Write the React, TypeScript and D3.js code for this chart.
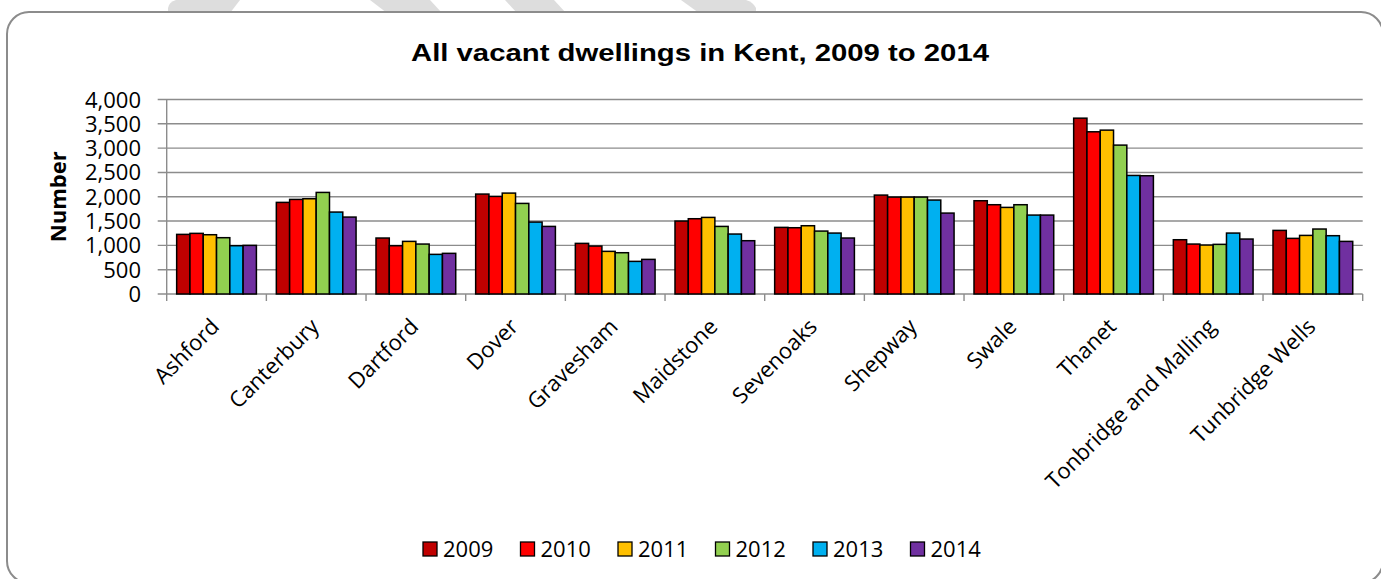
import React from "react";
import * as d3 from "d3";

const categories = [
  "Ashford", "Canterbury", "Dartford", "Dover", "Gravesham", "Maidstone",
  "Sevenoaks", "Shepway", "Swale", "Thanet", "Tonbridge and Malling", "Tunbridge Wells",
];
const years = ["2009", "2010", "2011", "2012", "2013", "2014"];
const colors = ["#C00000", "#FF0000", "#FFC000", "#92D050", "#00B0F0", "#7030A0"];

const v2009 = [1226, 1884, 1151, 2055, 1041, 1500, 1370, 2034, 1918, 3616, 1116, 1308];
const v2010 = [1247, 1945, 993, 2007, 986, 1548, 1363, 1993, 1836, 3336, 1027, 1144];
const v2011 = [1219, 1959, 1082, 2075, 877, 1575, 1404, 1993, 1781, 3370, 1007, 1205];
const v2012 = [1158, 2089, 1027, 1863, 849, 1390, 1294, 1993, 1836, 3062, 1021, 1336];
const v2013 = [993, 1685, 815, 1479, 671, 1233, 1253, 1932, 1623, 2438, 1253, 1199];
const v2014 = [1000, 1582, 836, 1390, 712, 1096, 1151, 1664, 1623, 2432, 1130, 1082];
const series = [v2009, v2010, v2011, v2012, v2013, v2014];

const yTicks = [0, 500, 1000, 1500, 2000, 2500, 3000, 3500, 4000];
const title = "All vacant dwellings in Kent, 2009 to 2014";
const yTitle = "Number";

const W = 1381;
const H = 579;
const plotLeft = 166.7;
const plotRight = 1362.7;
const plotTop = 99.5;
const plotBottom = 294;

export default function App() {
  const x = d3.scaleBand<string>().domain(categories).range([plotLeft, plotRight]).paddingInner(0.2).paddingOuter(0.1);
  const xs = d3.scaleBand<string>().domain(years).range([0, x.bandwidth()]).padding(0);
  const y = d3.scaleLinear().domain([0, 4000]).range([plotBottom, plotTop]);
  const step = x.step();
  const fmt = d3.format(",");
  const font = "'Open Sans', sans-serif";

  return (
    <svg width={W} height={H} style={{ position: "absolute", left: 0, top: 0 }}>
      <rect x={0} y={0} width={W} height={H} fill="#ffffff" />
      {/* watermark fragments */}
      <g fill="#dddddd">
        <path d="M176,0 L240,0 L230,13 L168,13 L168,8 Q169,2 176,0 Z" />
        <path d="M370,0 L430,0 L442,13 L387,13 Z" />
        <path d="M505,0 L554,0 L566,13 L517,13 Z" />
        <path d="M681,0 L746,0 Q753,2 756,8 L756,13 L699,13 Z" />
      </g>
      <rect x={7} y={12} width={1376} height={571} rx={22} ry={22} fill="#ffffff" stroke="#8c8c8c" strokeWidth={2} />

      <text x={411} y={61} textLength={578} lengthAdjust="spacingAndGlyphs" fontFamily="'Liberation Sans', Arial, sans-serif" fontWeight="bold" fontSize={24} fill="#000">
        {title}
      </text>

      {/* gridlines */}
      {yTicks.map((t) => (
        <line key={"g" + t} x1={plotLeft - 9} x2={plotRight} y1={y(t)} y2={y(t)} stroke="#8c8c8c" strokeWidth={1.4} />
      ))}
      {/* y axis line */}
      <line x1={plotLeft} x2={plotLeft} y1={plotTop} y2={plotBottom} stroke="#8c8c8c" strokeWidth={1.4} />
      {/* category ticks */}
      {d3.range(categories.length + 1).map((i) => (
        <line key={"ct" + i} x1={plotLeft + i * step} x2={plotLeft + i * step} y1={plotBottom} y2={plotBottom + 7} stroke="#8c8c8c" strokeWidth={1.4} />
      ))}
      {/* y tick labels */}
      {yTicks.map((t) => (
        <text key={"yl" + t} x={141} y={y(t) + 8} textAnchor="end" fontFamily={font} fontSize={22} fill="#000">
          {fmt(t)}
        </text>
      ))}
      <text transform={`translate(66,${(plotTop + plotBottom) / 2}) rotate(-90)`} textAnchor="middle" fontFamily={font} fontWeight="bold" fontSize={22} fill="#000">
        {yTitle}
      </text>

      {/* bars */}
      {categories.map((c, ci) => (
        <g key={c} transform={`translate(${x(c)},0)`}>
          {series.map((s, si) => (
            <rect
              key={years[si]}
              x={xs(years[si])}
              y={y(s[ci])}
              width={xs.bandwidth()}
              height={plotBottom - y(s[ci])}
              fill={colors[si]}
              stroke="#000"
              strokeWidth={1.5}
            />
          ))}
        </g>
      ))}

      {/* category labels */}
      {categories.map((c) => {
        const cx = (x(c) as number) + x.bandwidth() / 2;
        return (
          <text key={"cl" + c} transform={`translate(${cx + 4},328) rotate(-45)`} textAnchor="end" fontFamily={font} fontSize={22} fill="#000">
            {c}
          </text>
        );
      })}

      {/* legend */}
      {years.map((yr, i) => {
        const lx = 423 + i * 97.5;
        return (
          <g key={"lg" + yr}>
            <rect x={lx} y={542} width={14} height={14} fill={colors[i]} stroke="#000" strokeWidth={1.3} />
            <text x={lx + 20} y={557} fontFamily={font} fontSize={22} fill="#000">
              {yr}
            </text>
          </g>
        );
      })}
    </svg>
  );
}
